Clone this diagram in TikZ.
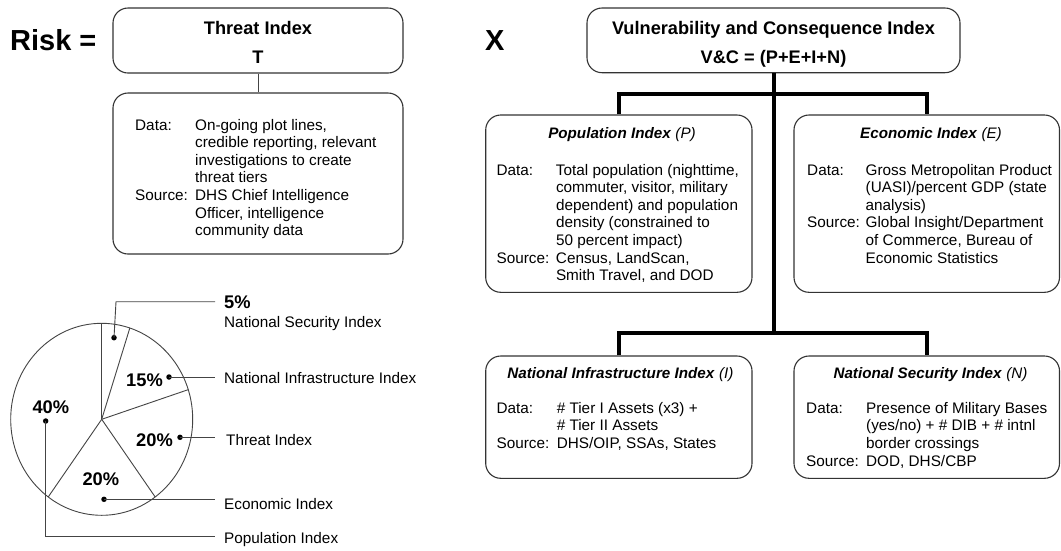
\documentclass[tikz,border=0pt]{standalone}
\usepackage{fontspec}
\setmainfont{Liberation Sans}
\usepackage{array}
\usetikzlibrary{calc}
\definecolor{boxc}{HTML}{333333}
\definecolor{linec}{HTML}{444444}
\begin{document}
\begin{tikzpicture}[x=1pt,y=-1pt,
  box/.style={draw=boxc, line width=1.1pt, rounded corners=15pt, inner sep=0pt},
  ttl/.style={font=\fontsize{18.2}{21}\selectfont\bfseries, anchor=base, inner sep=0pt},
  sttl/.style={font=\fontsize{15.2}{18}\selectfont\bfseries, anchor=base, inner sep=0pt},
  body/.style={font=\fontsize{15.3}{17.6}\selectfont, anchor=base west, inner sep=0pt},
  big/.style={font=\fontsize{29}{32}\selectfont\bfseries, anchor=base west, inner sep=0pt},
  conn/.style={line width=4pt, line join=miter},
  lead/.style={draw=linec, line width=0.9pt},
  pct/.style={font=\fontsize{18.3}{21}\selectfont\bfseries, anchor=base west, inner sep=0pt},
  lbl/.style={font=\fontsize{15.3}{17.6}\selectfont, anchor=base west, inner sep=0pt},
  dot/.style={circle, fill=black, inner sep=0pt, minimum size=5.5pt},
]
\fill[white] (0,0) rectangle (1061,550);
\useasboundingbox (0,0) rectangle (1061,550);

% ---------- left: Risk = Threat ----------
\node[big] (risk) at (10,50) {Risk =};
\node[box, minimum width=290pt, minimum height=65pt] (threat) at (258,40.5) {};
\node[ttl] (threatT) at (258,34.3) {Threat Index};
\node[ttl] (threatL) at (258,63.3) {T};
\node[box, minimum width=290pt, minimum height=161pt] (tdata) at (258,173.5) {};
\draw[lead] (threat.south) -- (tdata.north);
\node[body] (tdtext) at (135,130) {\begin{tabular}[t]{@{}p{60pt}@{}l@{}}
Data: & On-going plot lines,\\
 & credible reporting, relevant\\
 & investigations to create\\
 & threat tiers\\
Source: & DHS Chief Intelligence\\
 & Officer, intelligence\\
 & community data
\end{tabular}};

% ---------- pie ----------
\coordinate (pc) at (101.7,419.3);
\draw[lead] (pc) ellipse [x radius=91pt, y radius=96pt];
\foreach \a in {90,72,18,-54,-126}
  \draw[lead] (pc) -- ($(pc)+(\a:91pt and 96pt)$);

\node[pct] (p5) at (224,308) {5\%};
\node[lbl] (l5) at (224,327) {National Security Index};
\node[pct] (p15) at (126,386) {15\%};
\node[lbl] (l15) at (224,383.5) {National Infrastructure Index};
\node[pct] (p40) at (32.3,413.3) {40\%};
\node[pct] (p20a) at (136,446.5) {20\%};
\node[lbl] (l20a) at (226,445) {Threat Index};
\node[pct] (p20b) at (82.3,485) {20\%};
\node[lbl] (l20b) at (224,509) {Economic Index};
\node[lbl] (l40) at (224,543) {Population Index};

\node[dot] (d5) at (114,337.7) {};
\node[dot] (d15) at (169,377) {};
\node[dot] (d20a) at (180,437.3) {};
\node[dot] (d20b) at (104,499.3) {};
\node[dot] (d40) at (45.7,421) {};
\coordinate (e5) at (215,301.7);
\coordinate (e15) at (215,377);
\coordinate (e20a) at (215,437.3);
\coordinate (e20b) at (215,499.3);
\coordinate (e40) at (215,536.7);
\draw[lead] (d5.center) -- (116,301.7) -- (e5);
\draw[lead] (d15.center) -- (e15);
\draw[lead] (d20a.center) -- (e20a);
\draw[lead] (d20b.center) -- (e20b);
\draw[lead] (d40.center) |- (e40);

% ---------- right: X V&C ----------
\node[big] (x) at (485,50) {X};
\node[box, minimum width=373pt, minimum height=64.7pt] (vc) at (773.5,40.35) {};
\node[ttl] (vcT) at (773.5,34) {Vulnerability and Consequence Index};
\node[ttl] (vcF) at (773.5,63) {V\&C = (P+E+I+N)};

\node[box, minimum width=266.3pt, minimum height=177.3pt] (pop) at (618.85,203.65) {};
\node[box, minimum width=265.5pt, minimum height=177.3pt] (econ) at (926.75,203.65) {};
\node[box, minimum width=266.3pt, minimum height=122.3pt] (nii) at (618.85,417.15) {};
\node[box, minimum width=265.5pt, minimum height=122.3pt] (nsi) at (926.75,417.15) {};

\coordinate (b1) at (0,94);
\coordinate (b2) at (0,333.3);
\draw[conn] (vc.south) -- (vc.south |- b2);
\draw[conn] (pop.north) -- (pop.north |- b1) -- (econ.north |- b1) -- (econ.north);
\draw[conn] (nii.north) -- (nii.north |- b2) -- (nsi.north |- b2) -- (nsi.north);

\node[sttl] (popT) at (622,138.5) {\textit{Population Index} \mdseries\textit{(P)}};
\node[body] (popD) at (496.4,175) {\begin{tabular}[t]{@{}p{59.4pt}@{}l@{}}
Data: & Total population (nighttime,\\
 & commuter, visitor, military\\
 & dependent) and population\\
 & density (constrained to\\
 & 50 percent impact)\\
Source: & Census, LandScan,\\
 & Smith Travel, and DOD
\end{tabular}};

\node[sttl] (econT) at (931,138.5) {\textit{Economic Index} \mdseries\textit{(E)}};
\node[body] (econD) at (807,175) {\begin{tabular}[t]{@{}p{58.5pt}@{}l@{}}
Data: & Gross Metropolitan Product\\
 & (UASI)/percent GDP (state\\
 & analysis)\\
Source: & Global Insight/Department\\
 & of Commerce, Bureau of\\
 & Economic Statistics
\end{tabular}};

\node[sttl] (niiT) at (620.4,378.3) {\textit{National Infrastructure Index} \mdseries\textit{(I)}};
\node[body] (niiD) at (496.4,413.3) {\begin{tabular}[t]{@{}p{60.2pt}@{}l@{}}
Data: & \# Tier I Assets (x3) +\\
 & \# Tier II Assets\\
Source: & DHS/OIP, SSAs, States
\end{tabular}};

\node[sttl] (nsiT) at (930.5,378.3) {\textit{National Security Index} \mdseries\textit{(N)}};
\node[body] (nsiD) at (806,413.3) {\begin{tabular}[t]{@{}p{60pt}@{}l@{}}
Data: & Presence of Military Bases\\
 & (yes/no) + \# DIB + \# intnl\\
 & border crossings\\
Source: & DOD, DHS/CBP
\end{tabular}};
\end{tikzpicture}
\end{document}
